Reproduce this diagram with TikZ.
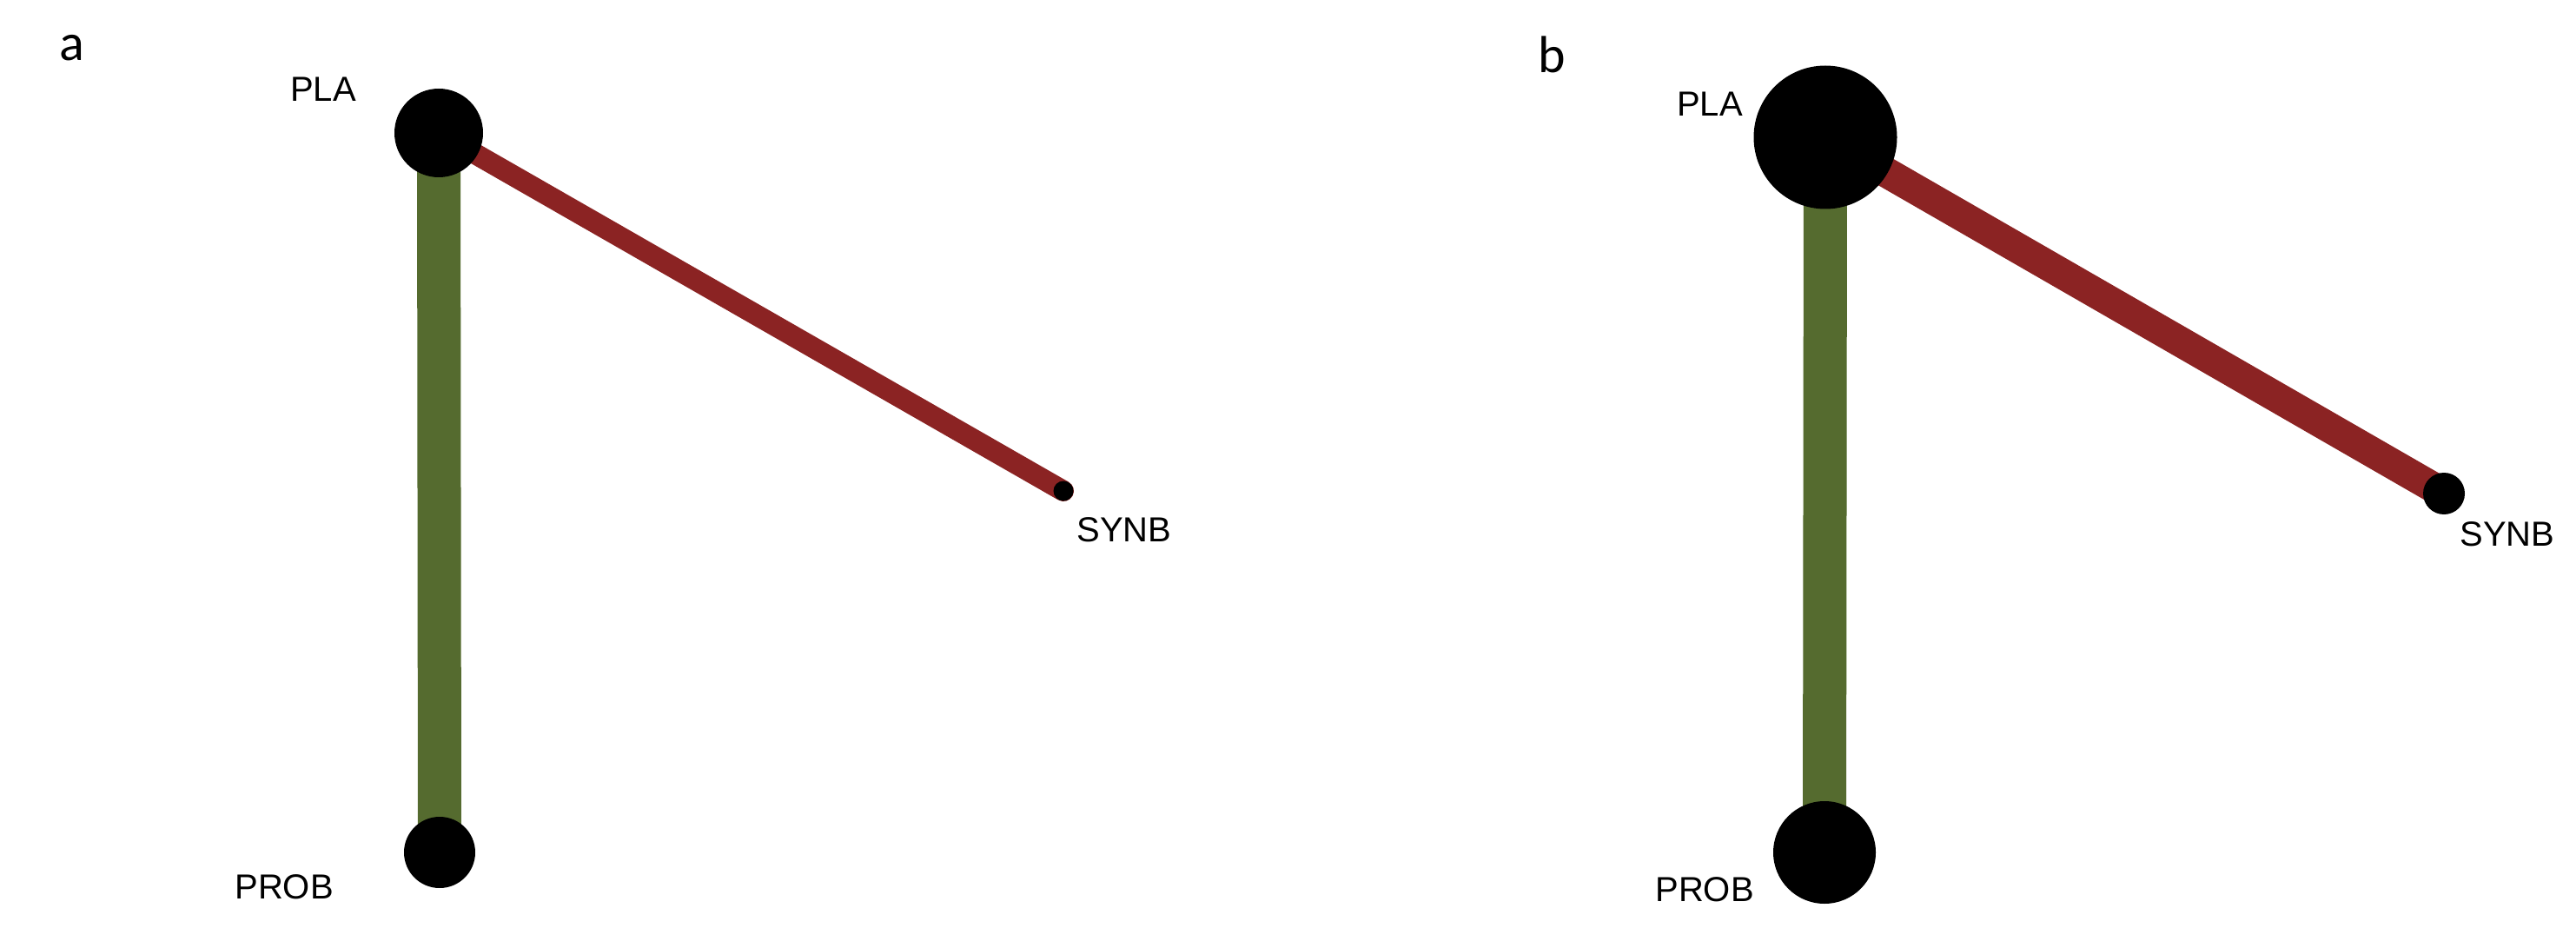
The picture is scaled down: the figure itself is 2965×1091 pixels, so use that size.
\documentclass[tikz,border=0pt]{standalone}
\usepackage{fontspec}
\setmainfont{Liberation Sans}
\newfontfamily\panelfont{Carlito}
\usetikzlibrary{backgrounds}
\definecolor{edgered}{RGB}{139,35,35}
\definecolor{edgegreen}{RGB}{85,107,47}
\begin{document}
\begin{tikzpicture}[x=0.25pt,y=-0.25pt,
  vert/.style={circle,fill=black,draw=none,inner sep=0pt},
  lbl/.style={inner sep=0pt,font=\fontsize{10}{12}\selectfont},
  panel/.style={inner sep=0pt,font=\panelfont\fontsize{15}{18}\selectfont},
  greenedge/.style={draw=edgegreen,line width=12.5pt},
  redA/.style={draw=edgered,line width=6pt,line cap=round},
  redB/.style={draw=edgered,line width=8.75pt}]
\useasboundingbox (0,0) rectangle (2965,1091);
% panel a
\node[panel] (la) at (83,55) {a};
\node[vert,minimum size=25.5pt] (plaA) at (505,153) {};
\node[vert,minimum size=20.5pt] (probA) at (506,981) {};
\node[vert,minimum size=5.75pt] (synbA) at (1224,565) {};
\node[lbl] (tplaA) at (372,103) {PLA};
\node[lbl] (tprobA) at (327,1021) {PROB};
\node[lbl] (tsynbA) at (1294,610) {SYNB};
% panel b
\node[panel] (lb) at (1786,63) {b};
\node[vert,minimum size=41.25pt] (plaB) at (2101,158) {};
\node[vert,minimum size=29.5pt] (probB) at (2100,981) {};
\node[vert,minimum size=12pt] (synbB) at (2813,568) {};
\node[lbl] (tplaB) at (1968,120) {PLA};
\node[lbl] (tprobB) at (1962,1024) {PROB};
\node[lbl] (tsynbB) at (2886,615) {SYNB};
\begin{pgfonlayer}{background}
\draw[greenedge] (plaA.center) -- (probA.center);
\draw[redA] (plaA.center) -- (synbA.center);
\draw[greenedge] (plaB.center) -- (probB.center);
\draw[redB] (plaB.center) -- (synbB.center);
\end{pgfonlayer}
\end{tikzpicture}
\end{document}
